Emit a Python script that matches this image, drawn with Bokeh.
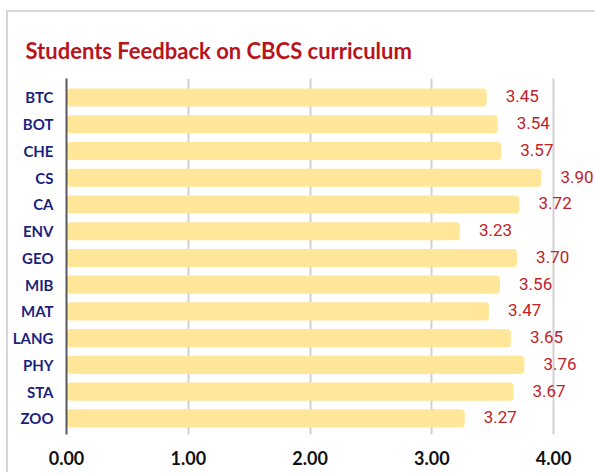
from bokeh.plotting import figure
from bokeh.models import ColumnDataSource, Range1d, FixedTicker, NumeralTickFormatter, Title
from bokeh.core.properties import value
from bokeh.embed import file_html
from bokeh.resources import INLINE

categories = ["BTC", "BOT", "CHE", "CS", "CA", "ENV", "GEO", "MIB", "MAT", "LANG", "PHY", "STA", "ZOO"]
scores = [3.45, 3.54, 3.57, 3.90, 3.72, 3.23, 3.70, 3.56, 3.47, 3.65, 3.76, 3.67, 3.27]
x_ticks = [0, 1, 2, 3, 4]

n = len(categories)
ypos = [n - 1 - i for i in range(n)]
labels = ["%.2f" % v for v in scores]

src = ColumnDataSource(dict(y=ypos, v=scores, lab=labels, cat=categories))

p = figure(width=589, height=462, output_backend="svg", toolbar_location=None,
           x_range=Range1d(0, 4.36), y_range=Range1d(-0.60, n - 1 + 0.71),
           min_border_left=58, min_border_right=0, min_border_top=66, min_border_bottom=40)
p.styles = {"border-left": "2px solid #d6d6d6", "border-top": "2px solid #d6d6d6",
            "margin-left": "6px", "margin-top": "10px"}

p.title = Title(text="Students Feedback on CBCS curriculum", align="left", offset=-41,
                standoff=29, text_font="Lato", text_font_style="bold",
                text_font_size="22px", text_color="#b8141c")

p.hbar(y="y", right="v", left=0, height=0.68, source=src, fill_color="#ffe699",
       line_color=None, border_radius=4)

p.text(x="v", y="y", text="lab", source=src, x_offset=19, y_offset=-1,
       text_baseline="middle", text_align="left", text_font=value("Roboto"),
       text_font_size="17px", text_color="#bf2228")

p.outline_line_color = None
p.ygrid.grid_line_color = None
p.xgrid.grid_line_color = "#d0d0d0"
p.xgrid.grid_line_width = 2
p.xaxis.ticker = FixedTicker(ticks=x_ticks)
p.xaxis.formatter = NumeralTickFormatter(format="0.00")
p.xaxis.axis_line_color = None
p.xaxis.major_tick_line_color = None
p.xaxis.minor_tick_line_color = None
p.xaxis.major_label_text_font = "Lato"
p.xaxis.major_label_text_font_style = "bold"
p.xaxis.major_label_text_font_size = "18px"
p.xaxis.major_label_text_color = "#111111"
p.xaxis.major_label_standoff = 10

p.yaxis.ticker = FixedTicker(ticks=ypos)
p.yaxis.major_label_overrides = {y: c for y, c in zip(ypos, categories)}
p.yaxis.axis_line_color = "#595959"
p.yaxis.axis_line_width = 2
p.yaxis.major_tick_line_color = None
p.yaxis.minor_tick_line_color = None
p.yaxis.major_label_text_font = "Lato"
p.yaxis.major_label_text_font_style = "bold"
p.yaxis.major_label_text_font_size = "15px"
p.yaxis.major_label_text_color = "#1c1f7e"
p.yaxis.major_label_standoff = 7

open("out.html", "w").write(file_html(p, INLINE))
